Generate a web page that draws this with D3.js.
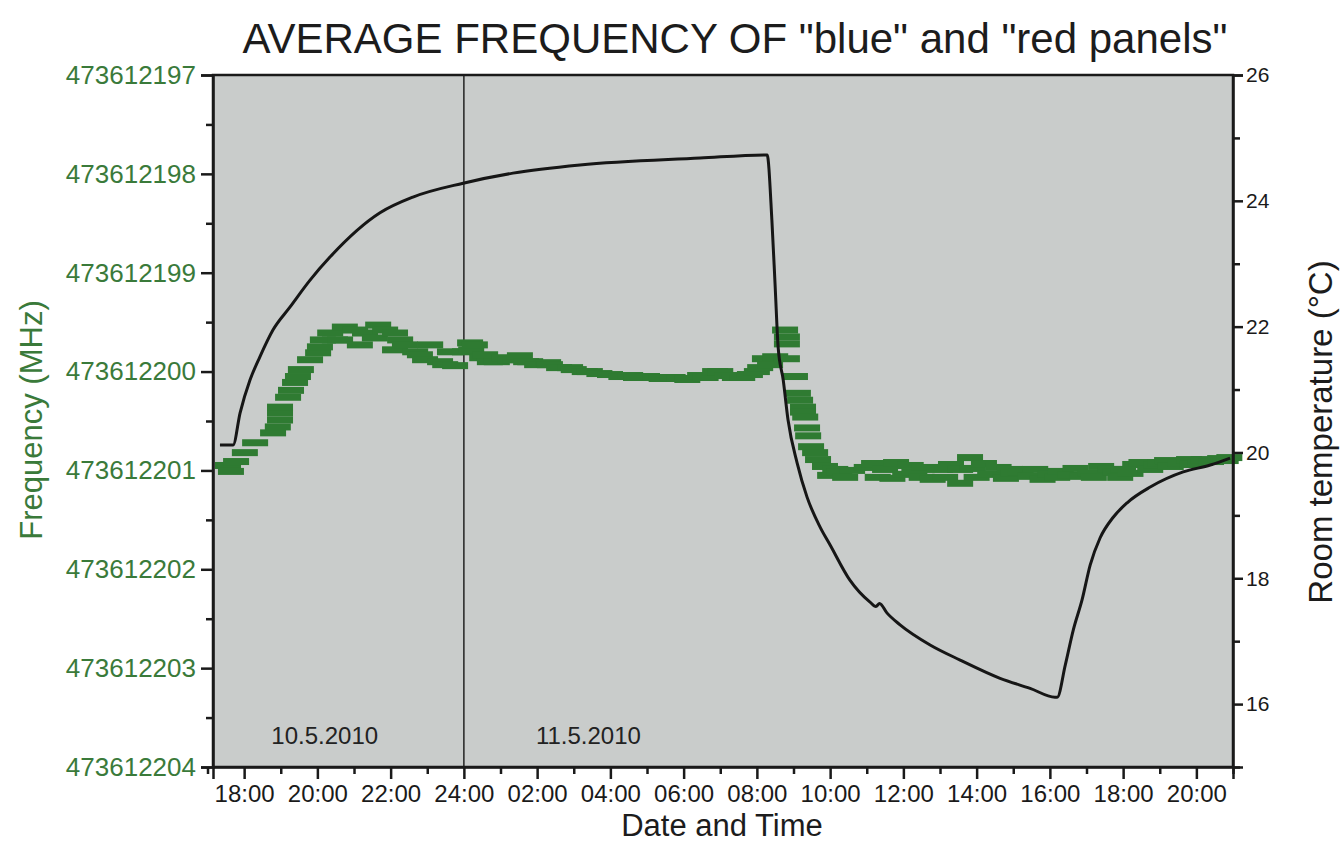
<!DOCTYPE html>
<html>
<head>
<meta charset="utf-8">
<script src="https://cdn.jsdelivr.net/npm/d3@7"></script>
<style>
  body { margin: 0; background: #fff; }
  svg text { font-family: "Liberation Sans", Arial, sans-serif; }
</style>
</head>
<body>
<svg id="chart" width="1342" height="850"></svg>
<script>
// time is in hours counted from 10.5.2010 00:00
const timeDomainHours = [17.15, 45];
const timeTickHours = [18, 20, 22, 24, 26, 28, 30, 32, 34, 36, 38, 40, 42, 44];
const timeTickLabels = ["18:00", "20:00", "22:00", "24:00", "02:00", "04:00", "06:00",
                        "08:00", "10:00", "12:00", "14:00", "16:00", "18:00", "20:00"];
const freqTicks = [473612197, 473612198, 473612199, 473612200, 473612201, 473612202, 473612203, 473612204];
const tempTicks = [16, 18, 20, 22, 24, 26];
const dateLabels = ["10.5.2010", "11.5.2010"];
const dateLabelHours = [20.2, 27.4];

// average frequency (green dashes): [hour, MHz]
const freqData = [
  [17.56, 473612200.95], [17.64, 473612201.01], [17.78, 473612200.91], [18.02, 473612200.82],
  [18.30, 473612200.72], [18.79, 473612200.62], [18.92, 473612200.56], [18.98, 473612200.49],
  [18.98, 473612200.42], [18.98, 473612200.36], [19.20, 473612200.26], [19.28, 473612200.19],
  [19.39, 473612200.11], [19.47, 473612200.05], [19.55, 473612199.98], [19.80, 473612199.88],
  [20.02, 473612199.81], [20.07, 473612199.75], [20.15, 473612199.68], [20.35, 473612199.61],
  [20.48, 473612199.68], [20.62, 473612199.68], [20.75, 473612199.55], [21.03, 473612199.58],
  [21.16, 473612199.73], [21.30, 473612199.61], [21.57, 473612199.66], [21.66, 473612199.53],
  [21.85, 473612199.58], [22.12, 473612199.61], [22.12, 473612199.78], [22.26, 473612199.68],
  [22.39, 473612199.73], [22.67, 473612199.80], [22.80, 473612199.83], [22.94, 473612199.88],
  [23.08, 473612199.73], [23.35, 473612199.90], [23.49, 473612199.93], [23.62, 473612199.80],
  [23.76, 473612199.94], [24.03, 473612199.80], [24.17, 473612199.71],
  [24.20, 473612199.78], [24.30, 473612199.73], [24.50, 473612199.86], [24.58, 473612199.83],
  [24.71, 473612199.90], [24.90, 473612199.90], [25.10, 473612199.86], [25.26, 473612199.88],
  [25.40, 473612199.88], [25.53, 473612199.84], [25.70, 473612199.90], [25.81, 473612199.90],
  [26.00, 473612199.93], [26.30, 473612199.91], [26.35, 473612199.93], [26.60, 473612199.96],
  [26.90, 473612199.96], [27.00, 473612199.98], [27.30, 473612200.00], [27.44, 473612200.00],
  [27.70, 473612200.02], [27.99, 473612200.03], [28.30, 473612200.05], [28.54, 473612200.04],
  [28.70, 473612200.06], [29.00, 473612200.05], [29.22, 473612200.06], [29.40, 473612200.07],
  [29.70, 473612200.06], [29.90, 473612200.07], [30.10, 473612200.08], [30.45, 473612200.04],
  [30.60, 473612200.06], [30.86, 473612200.00], [31.00, 473612200.00], [31.20, 473612200.04],
  [31.40, 473612200.06], [31.60, 473612200.06], [31.81, 473612200.03], [32.00, 473612200.00],
  [32.09, 473612199.96], [32.22, 473612199.87], [32.36, 473612199.93], [32.50, 473612199.85],
  [32.77, 473612199.58], [32.82, 473612199.65],
  [32.82, 473612199.72], [32.82, 473612199.87], [33.04, 473612200.05], [33.12, 473612200.22],
  [33.18, 473612200.29], [33.26, 473612200.36], [33.26, 473612200.41], [33.32, 473612200.46],
  [33.37, 473612200.57], [33.40, 473612200.65], [33.48, 473612200.76], [33.59, 473612200.82],
  [33.67, 473612200.89], [33.86, 473612200.96], [34.00, 473612201.05], [34.14, 473612200.99],
  [34.25, 473612201.02], [34.41, 473612201.07], [34.60, 473612201.00],
  [35.00, 473612200.97], [35.20, 473612200.93], [35.30, 473612201.07], [35.50, 473612200.99],
  [35.70, 473612201.08], [35.80, 473612200.92], [36.05, 473612201.04], [36.20, 473612200.95],
  [36.30, 473612201.02], [36.50, 473612201.07], [36.59, 473612200.97], [36.80, 473612201.09],
  [37.00, 473612200.99], [37.14, 473612201.07], [37.30, 473612200.94], [37.55, 473612200.99],
  [37.55, 473612201.13], [37.82, 473612200.87], [37.90, 473612200.98], [38.00, 473612201.07],
  [38.20, 473612200.93], [38.37, 473612201.04], [38.60, 473612200.97], [38.80, 473612201.08],
  [38.91, 473612200.99], [39.00, 473612201.03], [39.20, 473612201.02], [39.46, 473612201.06],
  [39.60, 473612200.99], [39.80, 473612201.09], [40.01, 473612201.04], [40.20, 473612201.07],
  [40.30, 473612201.01], [40.55, 473612201.05], [40.70, 473612200.98], [40.90, 473612201.06],
  [41.10, 473612201.03], [41.20, 473612201.07], [41.40, 473612200.96], [41.65, 473612200.99],
  [41.80, 473612201.02], [41.92, 473612201.07], [42.00, 473612200.99], [42.20, 473612201.03],
  [42.33, 473612200.94], [42.50, 473612200.92], [42.74, 473612200.99], [42.90, 473612200.95],
  [43.01, 473612200.92], [43.20, 473612200.90], [43.30, 473612200.96], [43.56, 473612200.92],
  [43.80, 473612200.89], [43.90, 473612200.94], [44.10, 473612200.92], [44.20, 473612200.89],
  [44.40, 473612200.91], [44.65, 473612200.88], [44.80, 473612200.90], [44.90, 473612200.87]
];

// room temperature (black line): [hour, °C]
const tempData = [
  [17.34, 20.12], [17.70, 20.12], [17.89, 20.63], [18.16, 21.15], [18.43, 21.52],
  [18.79, 21.95], [19.25, 22.31], [19.80, 22.74], [20.35, 23.11], [21.71, 23.81],
  [22.61, 24.06], [23.98, 24.28], [25.34, 24.44], [27.17, 24.57], [30.45, 24.68],
  [32.28, 24.73], [32.41, 23.69], [32.50, 22.63], [32.58, 21.68], [32.72, 21.15],
  [32.85, 20.52], [33.10, 19.83], [33.37, 19.29], [33.73, 18.81], [34.00, 18.53],
  [34.54, 17.97], [35.09, 17.62], [35.25, 17.55], [35.35, 17.60], [35.55, 17.45],
  [35.91, 17.26], [36.73, 16.94], [37.55, 16.70], [38.64, 16.41], [39.46, 16.25],
  [40.14, 16.11], [40.20, 16.11], [40.42, 16.62], [40.64, 17.18], [40.88, 17.66],
  [41.10, 18.21], [41.37, 18.64], [41.73, 18.97], [42.11, 19.20], [42.74, 19.45],
  [43.64, 19.69], [44.38, 19.80], [44.92, 19.91]
];

const toDate = (h) => new Date(Date.UTC(2010, 4, 10) + h * 3600e3);

const plotLeft = 213, plotRight = 1233, plotTop = 75, plotBottom = 767;
const svg = d3.select("#chart");

const x = d3.scaleUtc().domain(timeDomainHours.map(toDate)).range([plotLeft, plotRight]);
const yFreq = d3.scaleLinear().domain([freqTicks[0], freqTicks[freqTicks.length - 1]]).range([plotTop, plotBottom]);
const yTemp = d3.scaleLinear().domain([15, 26]).range([plotBottom, plotTop]);

// plot background
svg.append("rect")
  .attr("x", plotLeft).attr("y", plotTop)
  .attr("width", plotRight - plotLeft).attr("height", plotBottom - plotTop)
  .attr("fill", "#c9cccb");

// day separator
svg.append("line")
  .attr("x1", x(toDate(24))).attr("x2", x(toDate(24)))
  .attr("y1", plotTop).attr("y2", plotBottom)
  .attr("stroke", "#222").attr("stroke-width", 1.5);

dateLabels.forEach((lbl, i) => {
  svg.append("text")
    .attr("x", x(toDate(dateLabelHours[i])))
    .attr("y", 744)
    .attr("text-anchor", "middle")
    .attr("font-size", 24)
    .attr("fill", "#222")
    .text(lbl);
});

// green frequency dashes
svg.append("g").selectAll("rect")
  .data(freqData)
  .join("rect")
  .attr("x", d => x(toDate(d[0])) - 13)
  .attr("y", d => yFreq(d[1]) - 3.5)
  .attr("width", 26)
  .attr("height", 7)
  .attr("fill", "#2f7b32");

// temperature line
const line = d3.line()
  .x(d => x(toDate(d[0])))
  .y(d => yTemp(d[1]))
  .curve(d3.curveMonotoneX);

svg.append("path")
  .datum(tempData)
  .attr("d", line)
  .attr("fill", "none")
  .attr("stroke", "#161616")
  .attr("stroke-width", 3)
  .attr("stroke-linejoin", "round");

// frame
svg.append("rect")
  .attr("x", plotLeft).attr("y", plotTop)
  .attr("width", plotRight - plotLeft).attr("height", plotBottom - plotTop)
  .attr("fill", "none").attr("stroke", "#1a1a1a").attr("stroke-width", 2.5);

// bottom axis
const xAxis = svg.append("g")
  .attr("transform", `translate(0,${plotBottom})`)
  .call(d3.axisBottom(x)
    .tickValues(timeTickHours.map(toDate))
    .tickFormat((d, i) => timeTickLabels[i])
    .tickSize(12).tickPadding(6));
svg.append("g")
  .attr("transform", `translate(0,${plotBottom})`)
  .call(d3.axisBottom(x)
    .tickValues(d3.range(timeTickHours[0] - 1, timeTickHours[timeTickHours.length - 1] + 2, 2).map(toDate))
    .tickFormat("").tickSize(7))
  .call(g => g.select(".domain").remove());

// left axis
const yAxisL = svg.append("g")
  .attr("transform", `translate(${plotLeft},0)`)
  .call(d3.axisLeft(yFreq).tickValues(freqTicks).tickFormat(d3.format("d")).tickSize(12).tickPadding(5));
svg.append("g")
  .attr("transform", `translate(${plotLeft},0)`)
  .call(d3.axisLeft(yFreq).tickValues(freqTicks.slice(1).map(v => v - 0.5)).tickFormat("").tickSize(7))
  .call(g => g.select(".domain").remove());

// right axis
const yAxisR = svg.append("g")
  .attr("transform", `translate(${plotRight},0)`)
  .call(d3.axisRight(yTemp).tickValues(tempTicks).tickFormat(d3.format("d")).tickSize(10).tickPadding(3));
svg.append("g")
  .attr("transform", `translate(${plotRight},0)`)
  .call(d3.axisRight(yTemp).tickValues(tempTicks.map(v => v - 1)).tickFormat("").tickSize(7))
  .call(g => g.select(".domain").remove());

svg.selectAll(".domain").attr("stroke", "#1a1a1a").attr("stroke-width", 2.5);
svg.selectAll(".tick line").attr("stroke", "#1a1a1a").attr("stroke-width", 2.5);

xAxis.selectAll("text").attr("font-size", 24).attr("fill", "#1a1a1a").attr("font-family", "Liberation Sans");
yAxisL.selectAll("text").attr("font-size", 26).attr("fill", "#3a7a3a").attr("font-family", "Liberation Sans");
yAxisR.selectAll("text").attr("font-size", 21).attr("fill", "#1a1a1a").attr("font-family", "Liberation Sans");

// titles
svg.append("text")
  .attr("x", 735).attr("y", 53)
  .attr("text-anchor", "middle")
  .attr("font-size", 42)
  .attr("fill", "#1c1c1c")
  .text('AVERAGE FREQUENCY OF "blue" and "red panels"');

svg.append("text")
  .attr("x", 722).attr("y", 836)
  .attr("text-anchor", "middle")
  .attr("font-size", 31)
  .attr("fill", "#1c1c1c")
  .text("Date and Time");

svg.append("text")
  .attr("transform", "translate(42,420) rotate(-90)")
  .attr("text-anchor", "middle")
  .attr("font-size", 31)
  .attr("fill", "#3a7a3a")
  .text("Frequency (MHz)");

svg.append("text")
  .attr("transform", "translate(1332,432) rotate(-90)")
  .attr("text-anchor", "middle")
  .attr("font-size", 33)
  .attr("fill", "#1c1c1c")
  .text("Room temperature (°C)");
</script>
</body>
</html>
